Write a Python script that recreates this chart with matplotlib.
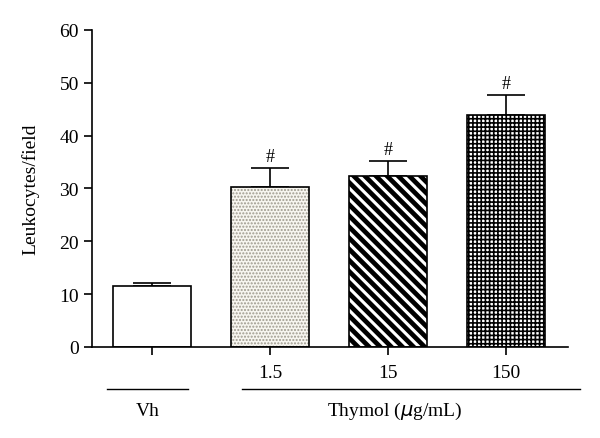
import matplotlib.pyplot as plt
import matplotlib.transforms as mtransforms

groups = ["Vh", "1.5", "15", "150"]
means = [11.6, 30.3, 32.3, 43.9]
sems = [0.6, 3.6, 2.9, 3.8]
marks = ["", "#", "#", "#"]

plt.rcParams['font.family'] = ['Liberation Serif', 'DejaVu Serif']
plt.rcParams['hatch.linewidth'] = 1.0

fig = plt.figure(figsize=(6, 4.39), dpi=100)
ax = fig.add_axes([0.1533, 0.2073, 0.7934, 0.7221])

x = list(range(len(groups)))
w = 0.655

# bar fills / hatches
ax.bar(x[0], means[0], w, color='white', edgecolor='black', linewidth=1.2, zorder=2)
ax.bar(x[1], means[1], w, color='#f7f6f0', edgecolor='#9e9a8e', hatch='.....', linewidth=0, zorder=2)
plt.rcParams['hatch.linewidth'] = 3.4
ax.bar(x[2], means[2], w, color='white', edgecolor='black', hatch='\\\\\\', linewidth=0, zorder=2)
plt.rcParams['hatch.linewidth'] = 1.2
ax.bar(x[3], means[3], w, color='white', edgecolor='black', hatch='++++', linewidth=0, zorder=2)
# outlines
ax.bar(x[1:], means[1:], w, fill=False, edgecolor='black', linewidth=1.2, zorder=3)

ax.errorbar(x, means, yerr=[[0] * 4, sems], fmt='none', ecolor='black',
            elinewidth=1.2, capsize=14, capthick=1.2, zorder=1)

for xi, m, s, t in zip(x, means, sems, marks):
    if t:
        ax.text(xi, m + s + 0.6, t, ha='center', va='bottom', fontsize=13)

ax.set_xlim(-0.508, 3.525)
ax.set_ylim(0, 60)
ax.set_yticks(range(0, 61, 10))
ax.set_xticks(x)
ax.set_xticklabels(["", "1.5", "15", "150"])
ax.tick_params(axis='both', direction='out', length=6, width=1.2, labelsize=14)
ax.tick_params(axis='x', pad=6)
for s in ['top', 'right']:
    ax.spines[s].set_visible(False)
for s in ['left', 'bottom']:
    ax.spines[s].set_linewidth(1.2)
ax.set_ylabel("Leukocytes/field", fontsize=14, labelpad=14)

trans = mtransforms.blended_transform_factory(ax.transData, ax.transAxes)
ax.plot([-0.38, 0.305], [-0.133, -0.133], color='black', lw=1, transform=trans, clip_on=False)
ax.plot([0.763, 3.63], [-0.133, -0.133], color='black', lw=1, transform=trans, clip_on=False)
ax.text(-0.04, -0.2, "Vh", ha='center', va='center', fontsize=14, transform=trans)
ax.text(2.06, -0.2, "Thymol ($\\mu$g/mL)", ha='center', va='center', fontsize=14, transform=trans)

fig.savefig("out.png", dpi=100)
